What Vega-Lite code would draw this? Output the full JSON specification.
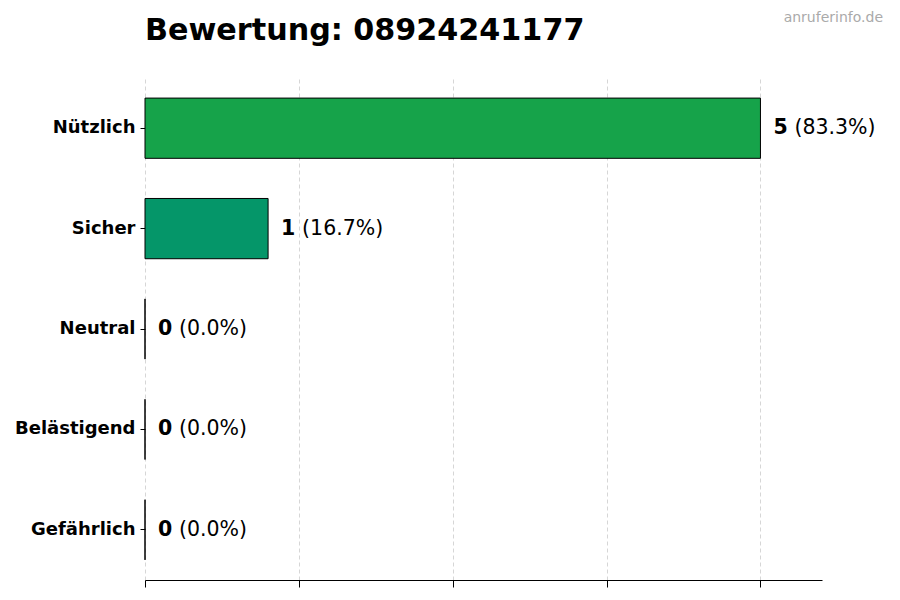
{
  "$schema": "https://vega.github.io/schema/vega-lite/v6.json",
  "width": 677,
  "height": 502,
  "autosize": {"type": "none"},
  "padding": {"left": 145, "top": 78, "right": 78, "bottom": 20},
  "background": "white",
  "title": {
    "text": "Bewertung: 08924241177",
    "anchor": "start",
    "frame": "group",
    "font": "DejaVu Sans",
    "fontSize": 30.2,
    "fontWeight": "bold",
    "color": "#000000",
    "offset": 28,
    "dy": 63
  },
  "data": {
    "values": [
      {"kategorie": "Nützlich", "anzahl": 5, "prozent": "(83.3%)"},
      {"kategorie": "Sicher", "anzahl": 1, "prozent": "(16.7%)"},
      {"kategorie": "Neutral", "anzahl": 0, "prozent": "(0.0%)"},
      {"kategorie": "Belästigend", "anzahl": 0, "prozent": "(0.0%)"},
      {"kategorie": "Gefährlich", "anzahl": 0, "prozent": "(0.0%)"}
    ]
  },
  "encoding": {
    "y": {
      "field": "kategorie",
      "type": "nominal",
      "sort": null,
      "scale": {"paddingInner": 0.4, "paddingOuter": 0.2},
      "axis": {
        "title": null,
        "domain": false,
        "ticks": true,
        "tickSize": 5,
        "tickColor": "#000000",
        "labelFont": "DejaVu Sans",
        "labelFontSize": 18,
        "labelFontWeight": "bold",
        "labelColor": "#000000",
        "labelPadding": 5
      }
    },
    "x": {
      "field": "anzahl",
      "type": "quantitative",
      "scale": {"domain": [0, 5.5], "nice": false, "zero": true},
      "axis": {
        "title": null,
        "labels": false,
        "values": [0, 1.25, 2.5, 3.75, 5],
        "tickSize": 7,
        "tickColor": "#000000",
        "domainColor": "#000000",
        "domainWidth": 1.2,
        "grid": true,
        "gridColor": "#cccccc",
        "gridDash": [4, 3],
        "gridWidth": 0.8
      }
    }
  },
  "layer": [
    {
      "mark": {"type": "bar", "stroke": "#000000", "strokeWidth": 1},
      "encoding": {
        "color": {
          "field": "kategorie",
          "type": "nominal",
          "legend": null,
          "scale": {
            "domain": ["Nützlich", "Sicher", "Neutral", "Belästigend", "Gefährlich"],
            "range": ["#16a34a", "#059669", "#6b7280", "#f97316", "#dc2626"]
          }
        }
      }
    },
    {
      "mark": {"type": "text", "align": "left", "baseline": "middle", "dx": 13, "font": "DejaVu Sans", "fontSize": 20.5, "fontWeight": "bold", "color": "#000000"},
      "encoding": {"text": {"field": "anzahl"}}
    },
    {
      "mark": {"type": "text", "align": "left", "baseline": "middle", "dx": 34, "font": "DejaVu Sans", "fontSize": 20.5, "color": "#000000"},
      "encoding": {"text": {"field": "prozent"}}
    },
    {
      "data": {"values": [{"quelle": "anruferinfo.de", "kategorie": "Nützlich", "wert": 5.5}]},
      "mark": {"type": "text", "align": "right", "baseline": "middle", "dx": 61, "dy": -110, "font": "DejaVu Sans", "fontSize": 14, "color": "#aaaaaa"},
      "encoding": {
        "x": {"field": "wert", "type": "quantitative"},
        "text": {"field": "quelle"}
      }
    }
  ],
  "config": {"view": {"stroke": null}}
}
